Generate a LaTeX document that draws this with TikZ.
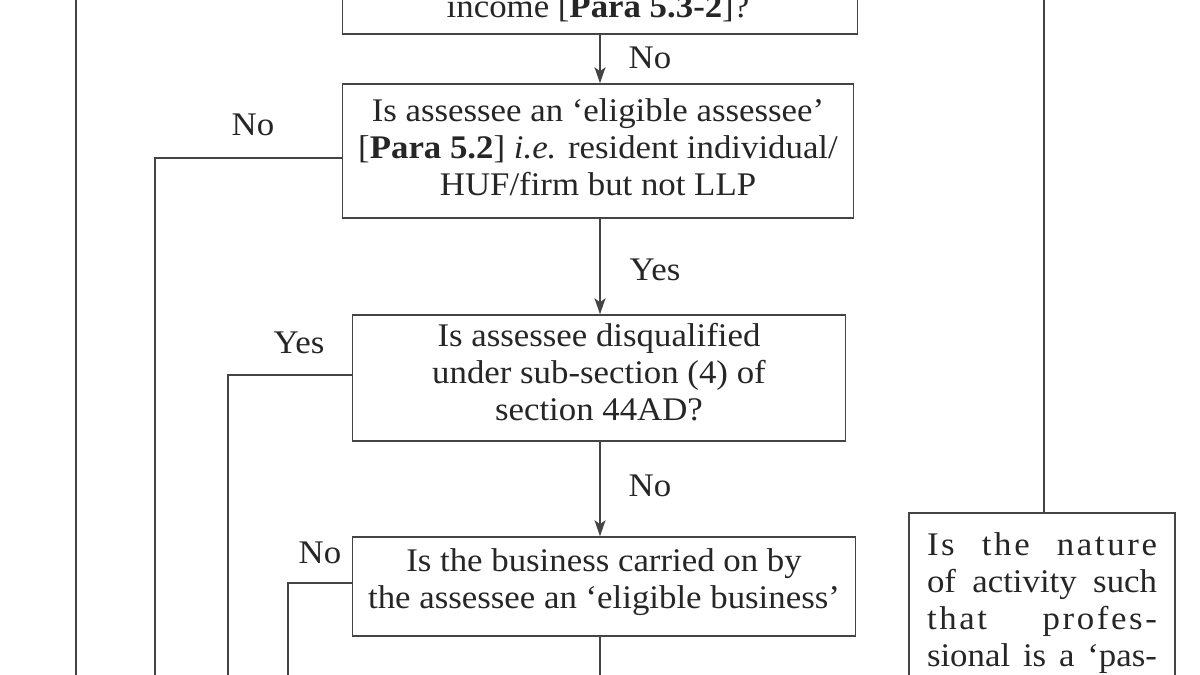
\documentclass[tikz,border=0pt]{standalone}
\usepackage{fontspec}
\setmainfont{Liberation Serif}[FakeStretch=1.055]
\usetikzlibrary{arrows.meta}
\definecolor{linec}{HTML}{444444}
\definecolor{txtc}{HTML}{262626}
\begin{document}
\begin{tikzpicture}[x=1pt,y=-1pt,
  box/.style={draw=linec, line width=1.5pt, align=center, inner sep=0pt,
    font=\fontsize{33}{37}\selectfont, text=txtc, text depth=0pt},
  lab/.style={font=\fontsize{33}{37}\selectfont, text=txtc, inner sep=0pt},
  conn/.style={draw=linec, line width=1.5pt},
  arr/.style={conn, -{Stealth[length=16pt,width=11pt,inset=4pt]}}]
\useasboundingbox[fill=white] (0,0) rectangle (1200,675);

% boxes
\node[box, minimum width=515pt, minimum height=134pt] (q0) at (600,-33) {};
\node[lab] (q0t) at (598,8) {income {[}\textbf{Para 5.3-2}{]}?};
\node[box, minimum width=511pt, minimum height=134pt, text height=88pt] (q1) at (598,151)
  {Is assessee an ‘eligible assessee’\\ {[}\textbf{Para 5.2}{]} \textit{i.e.} resident individual/\\ HUF/firm but not LLP};
\node[box, minimum width=493pt, minimum height=126pt, text height=84pt] (q2) at (599,378)
  {Is assessee disqualified\\ under sub-section (4) of\\ section 44AD?};
\node[box, minimum width=503pt, minimum height=99pt, text height=43pt] (q3) at (604,586.5)
  {Is the business carried on by\\ the assessee an ‘eligible business’};
\node[box, align=left, text width=230pt, inner xsep=18pt, minimum height=300pt,
  text height=0pt, text depth=216pt] (q4) at (1042,663)
  {\leavevmode\hbox to 230pt{\addfontfeature{LetterSpace=8}Is\hfill the\hfill nature}\\
   \leavevmode\hbox to 230pt{of\hfill activity\hfill such}\\
   \leavevmode\hbox to 230pt{\addfontfeature{LetterSpace=8}that\hfill profes-}\\
   \leavevmode\hbox to 230pt{sional\hfill is\hfill a\hfill ‘pas-}};

% coordinates for free ends
\coordinate (ax) at (600,0);
\coordinate (c1) at (155,680);
\coordinate (c2) at (228,680);
\coordinate (c3) at (288,680);
\coordinate (bot) at (0,680);
\coordinate (l1) at (76,-5);
\coordinate (l2) at (76,680);
\coordinate (r1) at (1044,-5);

% connectors
\draw[arr] (q0.south -| ax) -- (q1.north -| ax);
\draw[arr] (q1.south -| ax) -- (q2.north -| ax);
\draw[arr] (q2.south -| ax) -- (q3.north -| ax);
\draw[conn] (q3.south -| ax) -- (bot -| ax);
\draw[conn] ([yshift=-7pt]q1.west) -| (c1);
\draw[conn] ([yshift=3pt]q2.west) -| (c2);
\draw[conn] ([yshift=3.5pt]q3.west) -| (c3);
\draw[conn] (l1) -- (l2);
\draw[conn] (r1) -- (r1 |- q4.north);

% labels
\node[lab] (n0) at (650,58) {No};
\node[lab] (n1) at (253,125) {No};
\node[lab] (y1) at (655,270) {Yes};
\node[lab] (y2) at (299,343) {Yes};
\node[lab] (n2) at (650,486) {No};
\node[lab] (n3) at (320,553) {No};
\end{tikzpicture}
\end{document}
